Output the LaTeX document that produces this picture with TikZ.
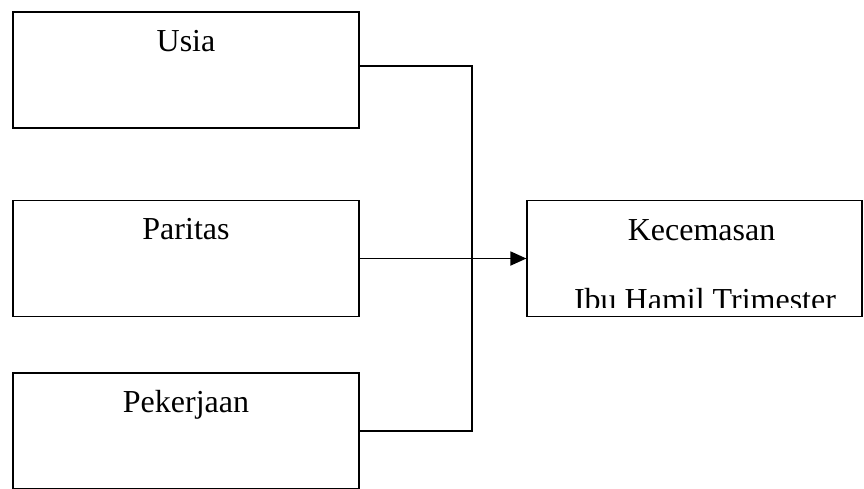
\documentclass[tikz,border=0pt]{standalone}
\usepackage{fontspec}
\setmainfont{Liberation Serif}
\usetikzlibrary{positioning, calc, arrows.meta}

\begin{document}
\begin{tikzpicture}[x=1pt, y=-1pt]
\tikzset{kotak/.style={
    rectangle, draw=black, line width=1.2pt, minimum width=346pt, minimum height=116pt, inner sep=0pt},
    kotakhasil/.style={
    rectangle, draw=black, line width=1.2pt, minimum width=335pt, minimum height=116pt, inner sep=0pt},
    judul/.style={anchor=base, font=\fontsize{32}{38}\selectfont},
    garis/.style={line width=1.8pt}
}

    \clip (0,0) rectangle (864,488);

    \coordinate (p_usia) at (186,70);
    \coordinate (p_paritas) at ($(p_usia) + (0,188.5)$);
    \coordinate (p_kerja) at ($(p_paritas) + (0,172.5)$);
    \coordinate (p_cemas) at ($(p_paritas) + (508.5,0)$);
    \coordinate (gabung) at (472,258.5);

    \path (p_usia) node[kotak] (usia) {};
    \path ($(usia.north)+(0,40)$) node[judul] (t_usia) {Usia};

    \path (p_paritas) node[kotak] (paritas) {};
    \path ($(paritas.north)+(0,40)$) node[judul] (t_paritas) {Paritas};

    \path (p_kerja) node[kotak] (kerja) {};
    \path ($(kerja.north)+(0,40)$) node[judul] (t_kerja) {Pekerjaan};

    \path (p_cemas) node[kotakhasil] (cemas) {};
    \path ($(cemas.north)+(7,41)$) node[judul] (t_cemas) {Kecemasan};
    \begin{scope}
      \clip (cemas.north west) rectangle ($(cemas.south east)+(0,-10)$);
      \path ($(cemas.north)+(10.5,111)$) node[judul] (t_ibu) {Ibu Hamil Trimester};
    \end{scope}

    % garis penghubung
    \draw[garis] ($(usia.east)+(0,-4)$) -| (gabung) |- (kerja.east);
    \draw[garis, -{Triangle[length=16pt, width=14pt]}] (paritas.east) -- (cemas.west);

\end{tikzpicture}
\end{document}
